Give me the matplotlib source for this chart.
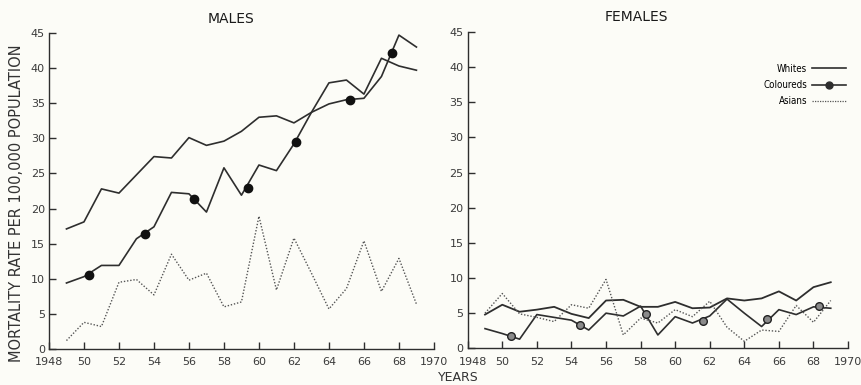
import matplotlib
matplotlib.use("Agg")
import matplotlib.pyplot as plt
import matplotlib.transforms as mtransforms
import numpy as np

years = np.arange(1949, 1970)

# males, rate per 100,000
male_whites = [17.1, 18.1, 22.8, 22.2, 24.8, 27.4, 27.2, 30.1, 29.0, 29.6, 31.0,
               33.0, 33.2, 32.2, 33.7, 37.9, 38.3, 36.3, 41.4, 40.3, 39.7]
male_coloureds = [9.4, 10.3, 11.9, 11.9, 15.7, 17.4, 22.3, 22.1, 19.5, 25.8, 21.9,
                  26.2, 25.4, 29.2, 33.7, 34.9, 35.5, 35.7, 38.8, 44.7, 43.0]
male_asians = [1.2, 3.8, 3.2, 9.5, 9.9, 7.7, 13.5, 9.8, 10.8, 6.0, 6.7,
               18.9, 8.4, 15.8, 10.8, 5.7, 8.6, 15.4, 8.2, 12.9, 6.4]
male_dot_years = [1950.3, 1953.5, 1956.3, 1959.35, 1962.1, 1965.2, 1967.6]
male_dot_vals = [10.6, 16.4, 21.3, 22.9, 29.5, 35.5, 42.2]

# females
female_whites = [4.8, 6.2, 5.2, 5.5, 5.9, 4.9, 4.3, 6.8, 6.9, 5.9, 5.9,
                 6.6, 5.7, 5.8, 7.1, 6.8, 7.1, 8.1, 6.8, 8.7, 9.4]
female_coloureds = [2.8, 2.1, 1.3, 4.8, 4.4, 4.0, 2.6, 5.0, 4.6, 6.0, 1.9,
                    4.5, 3.6, 4.6, 7.0, 5.0, 3.1, 5.5, 4.8, 5.9, 5.7]
female_asians = [5.0, 7.8, 4.9, 4.4, 3.8, 6.2, 5.7, 9.8, 1.9, 4.3, 3.6,
                 5.5, 4.5, 6.7, 3.0, 1.0, 2.6, 2.4, 6.1, 3.7, 6.8]
female_dot_years = [1950.5, 1954.5, 1958.3, 1961.6, 1965.3, 1968.3]
female_dot_vals = [1.8, 3.3, 4.9, 3.9, 4.1, 6.0]

xticks = np.arange(1948, 1971, 2)
xlabels = ["1948"] + [str(y)[2:] for y in xticks[1:-1]] + ["1970"]
yticks = np.arange(0, 46, 5)

bg = "#fcfcf7"
ink = "#2e2e2e"

fig = plt.figure(figsize=(8.62, 3.85), dpi=100, facecolor=bg)
ax1 = fig.add_axes([0.0568, 0.0935, 0.4466, 0.8208])
ax2 = fig.add_axes([0.5426, 0.0953, 0.4412, 0.8216])


def style(ax):
    ax.set_facecolor(bg)
    ax.set_xlim(1948, 1970)
    ax.set_ylim(0, 45)
    ax.spines["top"].set_visible(False)
    ax.spines["right"].set_visible(False)
    for s in ("left", "bottom"):
        ax.spines[s].set_color(ink)
        ax.spines[s].set_linewidth(1.0)
    ax.set_xticks(xticks)
    ax.set_xticklabels(xlabels)
    ax.set_yticks(yticks)
    ax.tick_params(direction="in", length=5, width=1.0, color=ink,
                   labelcolor="#3a3a3a", labelsize=8, pad=3)
    ax.tick_params(axis="x", pad=6)


style(ax1)
style(ax2)
# right panel's 1948 sits a little right of its tick
lab = ax2.get_xticklabels()[0]
lab.set_transform(lab.get_transform() +
                  mtransforms.ScaledTranslation(5 / 100, 0, fig.dpi_scale_trans))

# males
ax1.plot(years, male_whites, color=ink, lw=1.2)
ax1.plot(years, male_coloureds, color=ink, lw=1.2)
ax1.plot(male_dot_years, male_dot_vals, "o", color="#111111", ms=6)
ax1.plot(years, male_asians, color="#555555", lw=1.0, ls=(0, (1, 1.3)))

# females
ax2.plot(years, female_whites, color=ink, lw=1.3)
ax2.plot(years, female_coloureds, color=ink, lw=1.2)
ax2.plot(female_dot_years, female_dot_vals, "o", mfc="#8a8a8a", mec="#222222",
         mew=1.0, ms=5.5)
ax2.plot(years, female_asians, color="#555555", lw=1.0, ls=(0, (1, 1.3)))

# legend handles (line + dot for coloureds)
h_w, = ax2.plot([], [], color=ink, lw=1.2, label="Whites")
h_c, = ax2.plot([], [], color=ink, lw=1.2, marker="o", ms=5, label="Coloureds")
h_a, = ax2.plot([], [], color="#555555", lw=0.9, ls=(0, (1, 1)), label="Asians")
ax2.legend(handles=[h_w, h_c, h_a], loc="upper right", bbox_to_anchor=(0.995, 0.9),
           frameon=False, markerfirst=False, handlelength=3.5,
           handletextpad=0.5, labelspacing=0.65, borderpad=0, borderaxespad=0,
           prop={"stretch": "condensed", "size": 7})

ax1.set_title("MALES", x=0.473, pad=7, fontsize=10, color="#1a1a1a")
ax2.set_title("FEMALES", x=0.444, pad=8, fontsize=10, color="#1a1a1a")

fig.text(0.0197, 0.473, "MORTALITY RATE PER 100,000 POPULATION", rotation=90,
         ha="center", va="center", fontsize=10.5, color="#333333")
fig.text(0.532, 0.036, "YEARS", ha="center", va="top", fontsize=9,
         color="#333333")

fig.savefig("out.png", dpi=100, facecolor=bg)
